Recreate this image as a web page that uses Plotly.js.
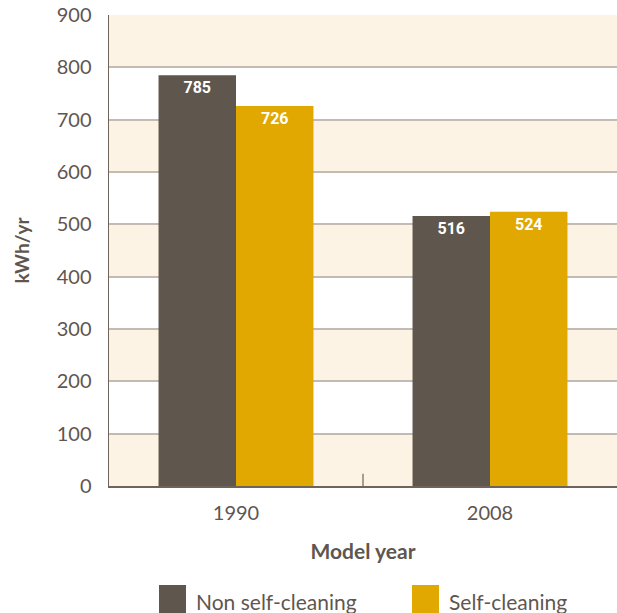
<!DOCTYPE html>
<html><head><meta charset="utf-8">
<script src="https://cdn.plot.ly/plotly-3.0.1.min.js"></script>
<style>html,body{margin:0;padding:0;background:#fff;}#chart{width:617px;height:613px;}</style>
</head><body><div id="chart"></div>
<script>
var years = ['1990', '2008'];
var seriesNames = ['Non self-cleaning', 'Self-cleaning'];
var nonSelfCleaning = [785, 516];
var selfCleaning = [726, 524];
var yTicks = [0, 100, 200, 300, 400, 500, 600, 700, 800, 900];
var colors = ['#5f564d', '#e0a800'];

var txtFont = {family: 'Roboto, sans-serif', size: 16, color: '#ffffff', weight: 'bold'};
var traces = [nonSelfCleaning, selfCleaning].map(function(vals, i){
  return {
    type: 'bar', x: years, y: vals, name: seriesNames[i],
    marker: {color: colors[i], line: {width: 0}},
    text: vals.map(String), textposition: 'inside', insidetextanchor: 'end',
    textfont: txtFont, showlegend: false, hoverinfo: 'skip', cliponaxis: false
  };
});

var shapes = [];
for (var k = 0; k < yTicks.length - 1; k += 2) {
  shapes.push({type: 'rect', xref: 'paper', yref: 'y', x0: 0, x1: 1,
    y0: yTicks[k], y1: yTicks[k+1], fillcolor: '#fdf3e4', line: {width: 0}, layer: 'below'});
}
// category separator tick
shapes.push({type: 'line', xref: 'x', yref: 'paper', x0: 0.5, x1: 0.5, y0: 0, y1: 0.026,
  line: {color: '#6e645b', width: 1.2}});

// legend built as shapes + annotations
var legendX = [159, 412];
var annotations = [];
seriesNames.forEach(function(n, i){
  shapes.push({type: 'rect', xref: 'paper', yref: 'paper',
    x0: (legendX[i] - 109) / 508, x1: (legendX[i] + 27 - 109) / 508,
    y0: -(585 - 486) / 471, y1: -(620 - 486) / 471,
    fillcolor: colors[i], line: {width: 0}});
  annotations.push({xref: 'paper', yref: 'paper', x: (legendX[i] + 35 - 109) / 508,
    y: -(601 - 486) / 471, xanchor: 'left', yanchor: 'middle', showarrow: false,
    text: n, font: {family: 'Lato, sans-serif', size: 21, color: '#5f564f'}});
});

var layout = {
  width: 617, height: 613,
  margin: {l: 109, r: 0, t: 15, b: 127},
  paper_bgcolor: '#ffffff', plot_bgcolor: '#ffffff',
  barmode: 'group', bargap: 0.39, bargroupgap: 0,
  font: {family: 'Lato, sans-serif', color: '#5f564f'},
  xaxis: {
    type: 'category', range: [-0.5, 1.5],
    showline: true, linecolor: '#6e645b', linewidth: 1.5,
    ticks: '', ticklabelstandoff: 8, tickfont: {size: 20, color: '#5f564f'},
    title: {text: '<b>Model year</b>', font: {size: 21, color: '#5f564f', weight: 900}, standoff: 22},
    fixedrange: true
  },
  yaxis: {
    range: [0, 900], tickvals: yTicks, ticktext: yTicks.map(String),
    showline: true, linecolor: '#6e645b', linewidth: 1.5,
    showgrid: true, gridcolor: '#c2bab3', gridwidth: 2, zeroline: false,
    ticks: '', ticklabelstandoff: 12, tickfont: {size: 20, color: '#5f564f'},
    title: {text: '<b>kWh/yr</b>', font: {size: 19, color: '#5f564f', weight: 900}, standoff: 22},
    fixedrange: true
  },
  shapes: shapes,
  annotations: annotations,
  showlegend: false
};
Plotly.newPlot('chart', traces, layout, {displayModeBar: false, staticPlot: true});
</script></body></html>
